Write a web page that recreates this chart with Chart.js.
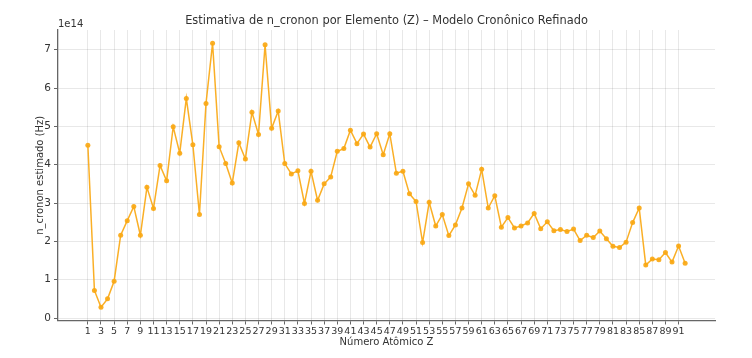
<!DOCTYPE html>
<html>
<head>
<meta charset="utf-8">
<title>n_cronon por Elemento</title>
<script src="https://cdn.jsdelivr.net/npm/chart.js@4.4.1/dist/chart.umd.min.js"></script>
<style>
  html, body { margin: 0; padding: 0; background: #fff; }
  #chart { display: block; }
</style>
</head>
<body>
<canvas id="chart" width="752" height="358"></canvas>
<script>
// dados (Z = 1..92, valores em unidades de 1e14 Hz)
const elementos = [
  1, 2, 3, 4, 5, 6, 7, 8, 9, 10, 11, 12, 13, 14, 15, 16, 17, 18, 19, 20,
  21, 22, 23, 24, 25, 26, 27, 28, 29, 30, 31, 32, 33, 34, 35, 36, 37, 38, 39, 40,
  41, 42, 43, 44, 45, 46, 47, 48, 49, 50, 51, 52, 53, 54, 55, 56, 57, 58, 59, 60,
  61, 62, 63, 64, 65, 66, 67, 68, 69, 70, 71, 72, 73, 74, 75, 76, 77, 78, 79, 80,
  81, 82, 83, 84, 85, 86, 87, 88, 89, 90, 91, 92
];
const nCronon = [
  4.51, 0.72, 0.28, 0.50, 0.96, 2.16, 2.54, 2.91, 2.16, 3.41,
  2.86, 3.98, 3.58, 4.99, 4.30, 5.73, 4.52, 2.70, 5.60, 7.17,
  4.47, 4.03, 3.52, 4.57, 4.15, 5.37, 4.79, 7.13, 4.95, 5.40,
  4.03, 3.76, 3.84, 2.99, 3.83, 3.07, 3.50, 3.68, 4.35, 4.42,
  4.90, 4.55, 4.80, 4.46, 4.81, 4.26, 4.81, 3.78, 3.83, 3.24,
  3.04, 1.97, 3.02, 2.40, 2.70, 2.15, 2.43, 2.87, 3.50, 3.20,
  3.88, 2.87, 3.19, 2.37, 2.62, 2.35, 2.40, 2.48, 2.73, 2.33,
  2.51, 2.28, 2.31, 2.26, 2.32, 2.02, 2.16, 2.10, 2.27, 2.07,
  1.87, 1.84, 1.98, 2.49, 2.87, 1.38, 1.54, 1.52, 1.71, 1.46,
  1.88, 1.43
];
const xTicks = [
  1, 3, 5, 7, 9, 11, 13, 15, 17, 19, 21, 23, 25, 27, 29, 31, 33, 35, 37, 39,
  41, 43, 45, 47, 49, 51, 53, 55, 57, 59, 61, 63, 65, 67, 69, 71, 73, 75, 77, 79,
  81, 83, 85, 87, 89, 91
];
const yTicks = [0, 1, 2, 3, 4, 5, 6, 7];
const ESCALA = 1e14;

const FONTE = "'DejaVu Sans', sans-serif";
const COR_LINHA = 'rgba(250,168,20,0.92)';
const COR_EIXO = '#666';
const COR_GRADE = 'rgba(0,0,0,0.09)';

const pontos = elementos.map((z, i) => ({ x: z, y: nCronon[i] * ESCALA }));

// texto "1e14" no topo do eixo y e título do gráfico
const textosExtras = {
  id: 'textosExtras',
  afterDraw(chart) {
    const { ctx, chartArea } = chart;
    ctx.save();
    ctx.fillStyle = '#333';
    ctx.font = `10px ${FONTE}`;
    ctx.textAlign = 'left';
    ctx.textBaseline = 'alphabetic';
    ctx.fillText('1e14', chartArea.left, chartArea.top - 3);
    ctx.font = `11.4px ${FONTE}`;
    ctx.textAlign = 'center';
    ctx.textBaseline = 'middle';
    ctx.fillText('Estimativa de n_cronon por Elemento (Z) – Modelo Cronônico Refinado',
      (chartArea.left + chartArea.right) / 2, 21);
    ctx.restore();
  }
};

new Chart(document.getElementById('chart'), {
  type: 'line',
  data: {
    datasets: [{
      data: pontos,
      borderColor: COR_LINHA,
      backgroundColor: COR_LINHA,
      borderWidth: 1.5,
      pointRadius: 2.5,
      pointBorderWidth: 0,
      tension: 0
    }]
  },
  options: {
    responsive: false,
    animation: false,
    devicePixelRatio: 1,
    clip: false,
    layout: { padding: { left: 0, right: 37, top: 30, bottom: 0 } },
    plugins: {
      legend: { display: false },
      tooltip: { enabled: false },
      title: { display: false }
    },
    scales: {
      x: {
        type: 'linear',
        min: -3.55,
        max: 96.55,
        afterBuildTicks: s => { s.ticks = xTicks.map(v => ({ value: v })); },
        afterFit: s => { s.height = 37.5; },
        ticks: {
          autoSkip: false,
          maxRotation: 0,
          padding: 1,
          color: '#333',
          font: { family: FONTE, size: 9.5 }
        },
        grid: { color: COR_GRADE, tickColor: COR_EIXO, tickLength: 4 },
        border: { color: COR_EIXO, width: 1.3 },
        title: {
          display: true,
          text: 'Número Atômico Z',
          color: '#333',
          font: { family: FONTE, size: 10 },
          padding: { top: 0, bottom: 10 }
        }
      },
      y: {
        min: -0.065 * ESCALA,
        max: 7.515 * ESCALA,
        afterBuildTicks: s => { s.ticks = yTicks.map(v => ({ value: v * ESCALA })); },
        afterFit: s => { s.width = 58; },
        ticks: {
          padding: 3,
          color: '#333',
          font: { family: FONTE, size: 10.5 },
          callback: v => String(Math.round(v / ESCALA))
        },
        grid: { color: COR_GRADE, tickColor: COR_EIXO, tickLength: 4 },
        border: { color: COR_EIXO, width: 1.3 },
        title: {
          display: true,
          text: 'n_cronon estimado (Hz)',
          color: '#333',
          font: { family: FONTE, size: 10 },
          padding: { top: 34, bottom: 0 }
        }
      }
    }
  },
  plugins: [textosExtras]
});
</script>
</body>
</html>
